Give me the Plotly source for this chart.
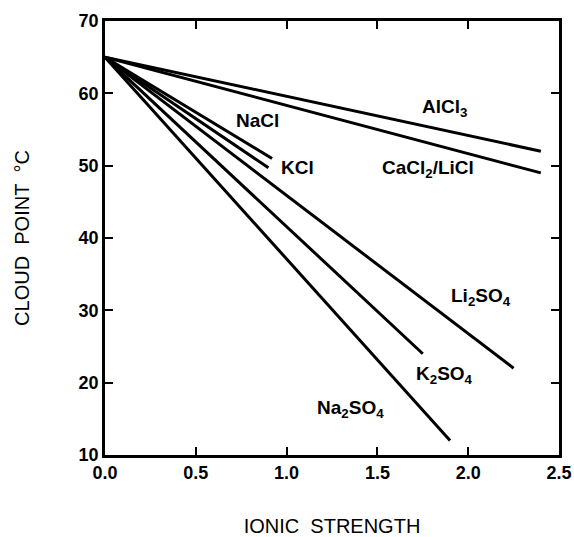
import plotly.graph_objects as go

# Data: linear cloud-point lines starting at zero ionic strength
salts = ["AlCl3", "CaCl2/LiCl", "NaCl", "KCl", "Li2SO4", "K2SO4", "Na2SO4"]
start_cloud_point = 65.0
end_ionic_strength = [2.4, 2.4, 0.92, 0.90, 2.25, 1.75, 1.90]
end_cloud_point = [52.0, 49.0, 51.0, 49.7, 22.0, 24.0, 12.0]

label_texts = ["AlCl<sub>3</sub>", "CaCl<sub>2</sub>/LiCl", "NaCl", "KCl",
               "Li<sub>2</sub>SO<sub>4</sub>", "K<sub>2</sub>SO<sub>4</sub>",
               "Na<sub>2</sub>SO<sub>4</sub>"]
label_x = [1.87, 1.78, 0.84, 1.06, 2.07, 1.87, 1.35]
label_y = [58.0, 49.6, 56.3, 49.8, 31.8, 21.0, 16.3]

x_ticks = [0.0, 0.5, 1.0, 1.5, 2.0, 2.5]
y_ticks = [10, 20, 30, 40, 50, 60, 70]

FONT = "Liberation Sans"

fig = go.Figure()
for name, xe, ye in zip(salts, end_ionic_strength, end_cloud_point):
    fig.add_trace(go.Scatter(x=[0.0, xe], y=[start_cloud_point, ye], mode="lines",
                             line=dict(color="black", width=3), name=name,
                             showlegend=False))

for t, lx, ly in zip(label_texts, label_x, label_y):
    fig.add_annotation(x=lx, y=ly, text=t, showarrow=False,
                       font=dict(family=FONT, size=19, color="black", weight="bold"),
                       xanchor="center", yanchor="middle")

axis_common = dict(showline=True, linecolor="black", linewidth=2.5, mirror="ticks",
                   ticks="inside", ticklen=8, tickwidth=2, tickcolor="black",
                   showgrid=False, zeroline=False, automargin=False,
                   tickfont=dict(family=FONT, size=18, color="black", weight="bold"))

fig.update_layout(
    width=574, height=537,
    margin=dict(l=105, r=15, t=21, b=82),
    plot_bgcolor="white", paper_bgcolor="white",
    xaxis=dict(range=[0, 2.5], tickvals=x_ticks, ticktext=[f"{v:.1f}" for v in x_ticks],
               title=dict(text="IONIC&nbsp; STRENGTH", standoff=41,
                          font=dict(family=FONT, size=20, color="black")),
               **axis_common),
    yaxis=dict(range=[10, 70], tickvals=y_ticks,
               title=dict(text="CLOUD&nbsp; POINT&nbsp; °C", standoff=44,
                          font=dict(family=FONT, size=20, color="black")),
               **axis_common),
)

fig.write_html("out.html", config={"displayModeBar": False},
               post_script="document.body.style.margin='0';document.body.style.overflow='hidden';")
